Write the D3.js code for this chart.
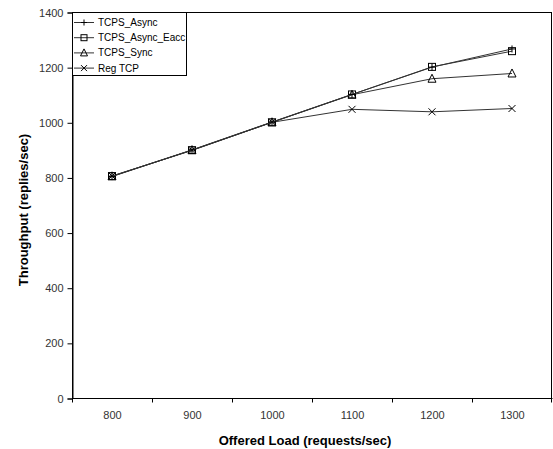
<!DOCTYPE html>
<html><head><meta charset="utf-8">
<script src="https://cdn.jsdelivr.net/npm/d3@7"></script>
<style>
body{margin:0;background:#fff;}
text{font-family:"Liberation Sans",Arial,sans-serif;}
</style></head>
<body><svg id="c" width="553" height="449"></svg>
<script>
const loads = [800, 900, 1000, 1100, 1200, 1300];
const tcpsAsync = [803, 900, 1001, 1101, 1200, 1266];
const tcpsAsyncEacc = [805, 899, 1000, 1101, 1201, 1258];
const tcpsSync = [804, 899, 1000, 1100, 1158, 1177];
const regTcp = [805, 898, 1000, 1047, 1038, 1050];
const yTicks = [0, 200, 400, 600, 800, 1000, 1200, 1400];

const series = [
  {name: "TCPS_Async", values: tcpsAsync, marker: "plus"},
  {name: "TCPS_Async_Eacc", values: tcpsAsyncEacc, marker: "square"},
  {name: "TCPS_Sync", values: tcpsSync, marker: "triangle"},
  {name: "Reg TCP", values: regTcp, marker: "cross"}
];

const svg = d3.select("#c");
const m = {l: 72, r: 552, t: 12, b: 398};

const x = d3.scaleBand().domain(loads).range([m.l, m.r]);
const y = d3.scaleLinear().domain([0, 1400]).range([m.b, m.t]);

// plot frame
svg.append("rect").attr("x", m.l + 0.5).attr("y", m.t + 0.5)
  .attr("width", m.r - m.l - 1).attr("height", m.b - m.t)
  .attr("fill", "none").attr("stroke", "#000").attr("stroke-width", 1);

// y axis
const ya = svg.append("g").attr("transform", `translate(${m.l + 0.5},0.5)`)
  .call(d3.axisLeft(y).tickValues(yTicks).tickFormat(d3.format("d")).tickSize(5).tickPadding(4));
ya.select(".domain").attr("stroke", "#000");
ya.selectAll("line").attr("stroke", "#000");
ya.selectAll("text").attr("font-size", 11).attr("fill", "#333")
  .attr("font-family", "Liberation Sans, Arial, sans-serif");

// x axis: ticks on band boundaries, labels at band centres
const xa = svg.append("g").attr("transform", `translate(0.5,${m.b + 0.5})`);
xa.append("line").attr("x1", m.l).attr("x2", m.r).attr("stroke", "#000");
const bounds = loads.map(d => x(d)).concat([x(loads[loads.length - 1]) + x.bandwidth() - 1]);
xa.selectAll("line.tk").data(bounds).join("line").attr("class", "tk")
  .attr("x1", d => d).attr("x2", d => d).attr("y1", 0).attr("y2", 4)
  .attr("stroke", "#000");
xa.selectAll("text").data(loads).join("text")
  .attr("x", d => x(d) + x.bandwidth() / 2).attr("y", 20.5)
  .attr("text-anchor", "middle").attr("font-size", 11).attr("fill", "#333")
  .text(d => d);

// axis titles
svg.append("text").attr("x", 305).attr("y", 445).attr("text-anchor", "middle")
  .attr("font-size", 13).attr("font-weight", "bold").text("Offered Load (requests/sec)");
svg.append("text").attr("transform", "translate(28,210) rotate(-90)")
  .attr("text-anchor", "middle").attr("font-size", 13).attr("font-weight", "bold")
  .text("Throughput (replies/sec)");

const cx = d => x(d) + x.bandwidth() / 2;
const line = d3.line().x((d, i) => cx(loads[i])).y(d => y(d));

function drawMarker(g, type, px, py, s) {
  if (type === "plus") {
    g.append("path").attr("d", `M${px - s},${py}H${px + s}M${px},${py - s}V${py + s}`)
      .attr("stroke", "#000").attr("fill", "none");
  } else if (type === "square") {
    g.append("rect").attr("x", px - s).attr("y", py - s).attr("width", 2 * s).attr("height", 2 * s)
      .attr("fill", "none").attr("stroke", "#000");
  } else if (type === "triangle") {
    g.append("path").attr("d", `M${px},${py - s - 1}L${px + s + 0.5},${py + s}L${px - s - 0.5},${py + s}Z`)
      .attr("fill", "none").attr("stroke", "#000");
  } else if (type === "cross") {
    g.append("path").attr("d", `M${px - s},${py - s}L${px + s},${py + s}M${px + s},${py - s}L${px - s},${py + s}`)
      .attr("stroke", "#000").attr("fill", "none");
  }
}

const plot = svg.append("g");
[...series].reverse().forEach(s => {
  plot.append("path").attr("d", line(s.values)).attr("fill", "none")
    .attr("stroke", "#333").attr("stroke-width", 1);
  s.values.forEach((v, i) => drawMarker(plot, s.marker, cx(loads[i]), y(v), 3.5));
});

// legend
const lg = svg.append("g");
lg.append("rect").attr("x", m.l + 0.5).attr("y", m.t + 0.5).attr("width", 114).attr("height", 63)
  .attr("fill", "#fff").attr("stroke", "#000");
series.forEach((s, i) => {
  const ly = 22.5 + i * 15.2;
  lg.append("line").attr("x1", 74).attr("x2", 94).attr("y1", ly).attr("y2", ly).attr("stroke", "#333");
  drawMarker(lg, s.marker, 84, ly, 3);
  lg.append("text").attr("x", 98).attr("y", ly + 3.5).attr("font-size", 10).attr("fill", "#000").text(s.name);
});
</script></body></html>
